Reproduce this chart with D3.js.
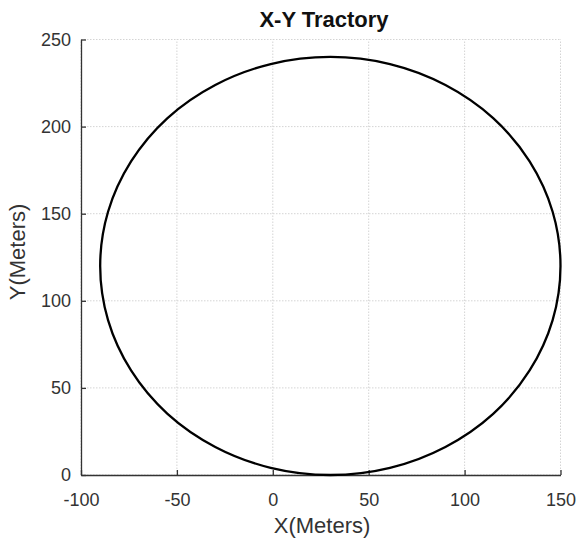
<!DOCTYPE html>
<html>
<head>
<meta charset="utf-8">
<script src="https://cdn.jsdelivr.net/npm/d3@7"></script>
<style>
  body { margin: 0; background: #fff; }
  svg text { font-family: "Liberation Sans", Arial, sans-serif; }
  .axis path, .axis line { stroke: #333; stroke-width: 1.3; }
  .axis text { fill: #333; font-size: 18px; }
  .grid line { stroke: #d4d4d4; stroke-dasharray: 1.5 1.5; }
</style>
</head>
<body>
<svg width="578" height="543"></svg>
<script>

var xs = [150, 145.9, 133.9, 114.9, 90, 61.1, 30, -1.1, -30, -54.9, -73.9, -85.9,
          -90, -85.9, -73.9, -54.9, -30, -1.1, 30, 61.1, 90, 114.9, 133.9, 145.9];
var ys = [120, 151.1, 180, 204.9, 223.9, 235.9, 240, 235.9, 223.9, 204.9, 180, 151.1,
          120, 88.9, 60, 35.1, 16.1, 4.1, 0, 4.1, 16.1, 35.1, 60, 88.9];
var xTicks = [-100, -50, 0, 50, 100, 150];
var yTicks = [0, 50, 100, 150, 200, 250];

var data = xs.map(function (d, i) { return {x: d, y: ys[i]}; });

var svg = d3.select("svg"),
    width = +svg.attr("width"),
    height = +svg.attr("height");

var margin = {top: 39.5, right: 17.5, bottom: 68, left: 81};
var w = width - margin.left - margin.right,
    h = height - margin.top - margin.bottom;

var x = d3.scaleLinear().domain([-100, 150]).range([margin.left, margin.left + w]);
var y = d3.scaleLinear().domain([0, 250]).range([margin.top + h, margin.top]);

// grid
var grid = svg.append("g").attr("class", "grid");

grid.selectAll("line.gx")
    .data(xTicks)
    .enter().append("line")
    .attr("class", "gx")
    .attr("x1", function (d) { return x(d); })
    .attr("x2", function (d) { return x(d); })
    .attr("y1", y(0))
    .attr("y2", y(250));

grid.selectAll("line.gy")
    .data(yTicks)
    .enter().append("line")
    .attr("class", "gy")
    .attr("x1", x(-100))
    .attr("x2", x(150))
    .attr("y1", function (d) { return y(d); })
    .attr("y2", function (d) { return y(d); });

// plain hyphen minus like the original
var fmt = function (d) { return String(d); };

var xAxis = d3.axisBottom(x)
    .tickValues(xTicks)
    .tickFormat(fmt)
    .tickSizeInner(-5)
    .tickSizeOuter(0)
    .tickPadding(18);

var yAxis = d3.axisLeft(y)
    .tickValues(yTicks)
    .tickFormat(fmt)
    .tickSizeInner(-5)
    .tickSizeOuter(0)
    .tickPadding(10);

svg.append("g")
    .attr("class", "axis axis--x")
    .attr("transform", "translate(0," + y(0) + ")")
    .call(xAxis);

svg.append("g")
    .attr("class", "axis axis--y")
    .attr("transform", "translate(" + x(-100) + ",0)")
    .call(yAxis);

// trajectory
var line = d3.line()
    .x(function (d) { return x(d.x); })
    .y(function (d) { return y(d.y); })
    .curve(d3.curveCatmullRomClosed);

svg.append("path")
    .datum(data)
    .attr("d", line)
    .attr("fill", "none")
    .attr("stroke", "#000")
    .attr("stroke-width", 2.3);

// labels
svg.append("text")
    .attr("x", 324)
    .attr("y", 27)
    .attr("text-anchor", "middle")
    .attr("font-size", "22px")
    .attr("font-weight", "bold")
    .attr("fill", "#111")
    .text("X-Y Tractory");

svg.append("text")
    .attr("x", 322)
    .attr("y", 533)
    .attr("text-anchor", "middle")
    .attr("font-size", "22px")
    .attr("fill", "#333")
    .text("X(Meters)");

svg.append("text")
    .attr("transform", "translate(25,252) rotate(-90)")
    .attr("text-anchor", "middle")
    .attr("font-size", "22px")
    .attr("fill", "#333")
    .text("Y(Meters)");

</script>
</body>
</html>
